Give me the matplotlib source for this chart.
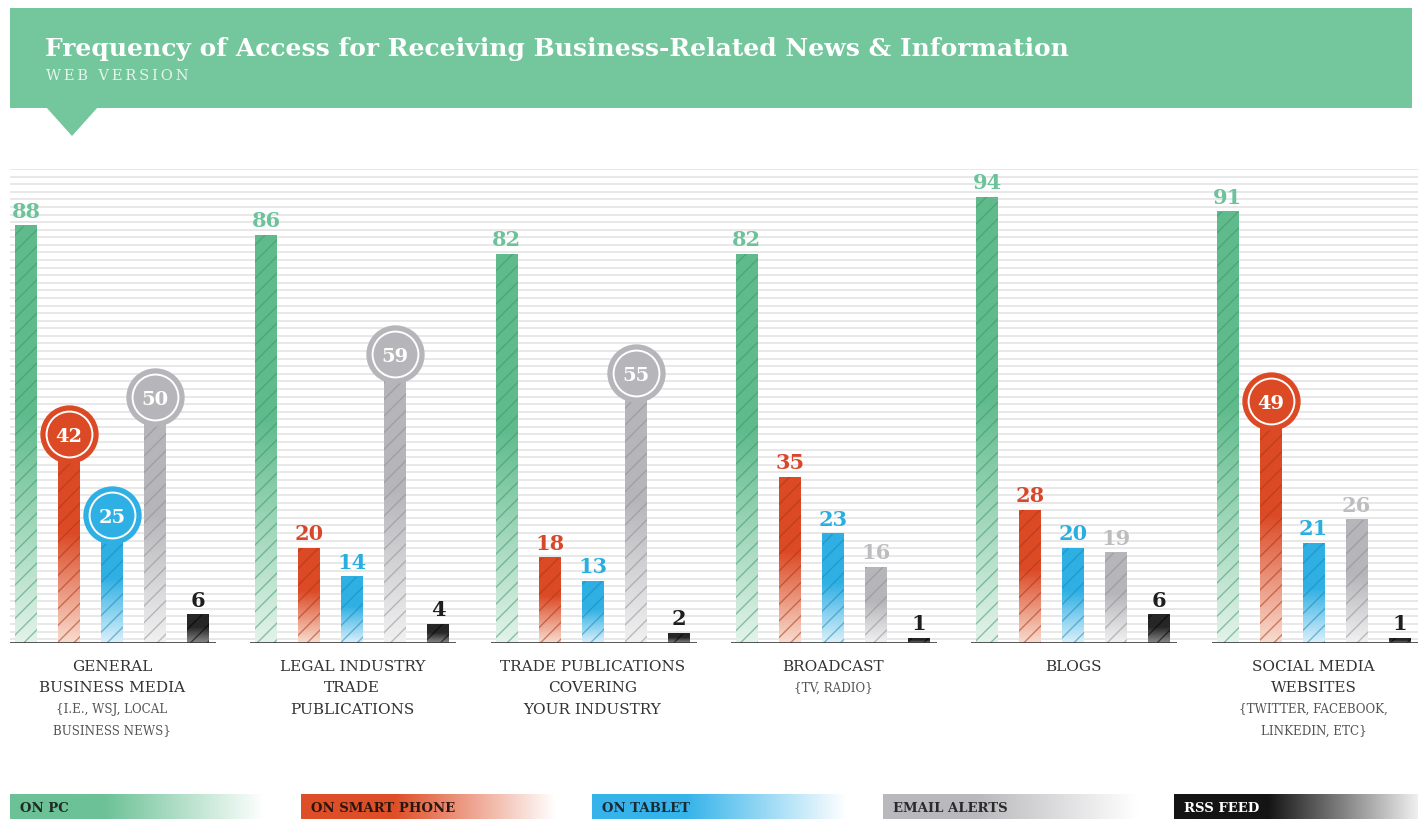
import matplotlib

matplotlib.use('Agg')
import matplotlib.pyplot as plt
import numpy as np
from matplotlib.colors import to_rgb
from matplotlib.patches import Polygon, Rectangle

W, H = 1418, 820

# data ---------------------------------------------------------------
series = ['ON PC', 'ON SMART PHONE', 'ON TABLET', 'EMAIL ALERTS', 'RSS FEED']
cat_main = [['GENERAL', 'BUSINESS MEDIA'],
            ['LEGAL INDUSTRY', 'TRADE', 'PUBLICATIONS'],
            ['TRADE PUBLICATIONS', 'COVERING', 'YOUR INDUSTRY'],
            ['BROADCAST'],
            ['BLOGS'],
            ['SOCIAL MEDIA', 'WEBSITES']]
cat_sub = [['{I.E., WSJ, LOCAL', 'BUSINESS NEWS}'],
           [], [],
           ['{TV, RADIO}'],
           [],
           ['{TWITTER, FACEBOOK,', 'LINKEDIN, ETC}']]
on_pc = [88, 86, 82, 82, 94, 91]
on_phone = [42, 20, 18, 35, 28, 49]
on_tablet = [25, 14, 13, 23, 20, 21]
email_alerts = [50, 59, 55, 16, 19, 26]
rss_feed = [6, 4, 2, 1, 6, 1]
# values shown inside a badge instead of a plain label
circ_pc = [False] * 6
circ_phone = [True, False, False, False, False, True]
circ_tablet = [True, False, False, False, False, False]
circ_email = [True, True, True, False, False, False]
circ_rss = [False] * 6

values = [on_pc, on_phone, on_tablet, email_alerts, rss_feed]
circled = [circ_pc, circ_phone, circ_tablet, circ_email, circ_rss]

# style --------------------------------------------------------------
BAR_COL = ['#5fbb8c', '#dc4a25', '#2eb0e4', '#b6b6ba', '#262626']
BOT_COL = ['#e3f3ea', '#f8dccf', '#dcf0fa', '#f1f1f2', '#8a8a8a']
HATCH_COL = ['#3e9468', '#a83418', '#1d86b3', '#8e8e92', '#000000']
LABEL_COL = ['#6cc39a', '#d9472b', '#29aee0', '#bdbdc0', '#1e1e1e']
LEG_COL = ['#6cc196', '#de4f28', '#35b3ea', '#b9b9bd', '#141414']
LEG_TXT = ['#1f2a24', '#2a1610', '#1b2a33', '#2a2a2a', 'white']
HEADER = '#74c69c'
SERIF = 'DejaVu Serif'

G0, G_STEP, B_STEP, B_W = 26, 240.3, 43, 22
Y0, PX_PER = 644, 4.74  # baseline pixel and pixels per percentage point

plt.rcParams['hatch.linewidth'] = 1.0
fig = plt.figure(figsize=(W / 100, H / 100), dpi=100)

# overlay in pixel coordinates for header, category labels and legend
ov = fig.add_axes([0, 0, 1, 1])
ov.set_xlim(0, W)
ov.set_ylim(H, 0)
ov.axis('off')

ov.add_patch(Rectangle((10, 9), 1402, 100, color=HEADER, lw=0))
ov.add_patch(Polygon([(46, 108), (98, 108), (72, 137)], color=HEADER, lw=0))
ov.text(45, 56, 'Frequency of Access for Receiving Business-Related News & Information',
        color='white', fontsize=18, fontweight='bold', family=SERIF, va='baseline')
ov.text(46, 80, '\u2009'.join('WEB VERSION'), color='#e6f5ec', fontsize=10.5,
        family=SERIF, va='baseline')

# main axes in data units
top_px = Y0 - 100 * PX_PER
ax = fig.add_axes([0, (H - Y0) / H, 1, (Y0 - top_px) / H])
ax.set_xlim(0, W)
ax.set_ylim(0, 100)
ax.axis('off')
ax.patch.set_visible(False)

ax.hlines(np.arange(100, 0, -1.6), 10, W, color='#e8e8e8', lw=1.4, zorder=0)

for gi in range(len(on_pc)):
    gx = G0 + gi * G_STEP
    ax.hlines(-0.3, gx - 16, gx + 4 * B_STEP + 18, color='#333333', lw=2.6, zorder=6)
    for si, vals in enumerate(values):
        v = vals[gi]
        x = gx + si * B_STEP
        t = np.linspace(0, 1, 200)
        mix = np.clip(t / 0.55, 0, 1)[:, None]
        c0, c1 = np.array(to_rgb(BOT_COL[si])), np.array(to_rgb(BAR_COL[si]))
        img = (c0 + (c1 - c0) * mix)[:, None, :]
        ax.imshow(img, extent=(x - B_W / 2, x + B_W / 2, 0, v), origin='lower',
                  aspect='auto', zorder=2, interpolation='bilinear')
        ax.bar(x, v, B_W, fill=False, hatch='//', edgecolor=HATCH_COL[si] + '88',
               lw=0, zorder=3)
        if circled[si][gi]:
            cy = v + 2
            ax.plot(x, cy, 'o', ms=41, mfc=BAR_COL[si], mec=BAR_COL[si], zorder=4,
                    clip_on=False)
            ax.plot(x, cy, 'o', ms=33, mfc='none', mec='white', mew=1.4, zorder=5,
                    clip_on=False)
            ax.text(x, cy, str(v), color='white', fontsize=14, fontweight='bold',
                    family=SERIF, ha='center', va='center_baseline', zorder=6)
        else:
            ax.annotate(str(v), (x, v), xytext=(0, 6.5), textcoords='offset points',
                        color=LABEL_COL[si], fontsize=15, fontweight='bold',
                        family=SERIF, ha='center', va='baseline', zorder=6,
                        annotation_clip=False)

    cx = gx + 2 * B_STEP
    lines = [(s, 11, '#333333') for s in cat_main[gi]] + \
            [(s, 8.6, '#555555') for s in cat_sub[gi]]
    for k, (s, fs, col) in enumerate(lines):
        ov.text(cx, 667 + 21.3 * k, s, fontsize=fs, color=col, family=SERIF,
                ha='center', va='center')

# legend strip
for li, name in enumerate(series):
    lx = 10 + li * 291
    c = np.array(to_rgb(LEG_COL[li]))
    t = np.linspace(0, 1, 300)
    mix = np.clip((t - 0.35) / 0.6, 0, 1)[:, None]
    row = (c + (1 - c) * mix)[None, :, :]
    ov.imshow(row, extent=(lx, lx + 268, 820, 795), aspect='auto', zorder=1,
              interpolation='bilinear')
    ov.text(lx + 10, 809, name, color=LEG_TXT[li], fontsize=9.5, fontweight='bold',
            family=SERIF, va='center', zorder=2)
ov.set_xlim(0, W)
ov.set_ylim(H, 0)

fig.savefig('out.png', dpi=100)
